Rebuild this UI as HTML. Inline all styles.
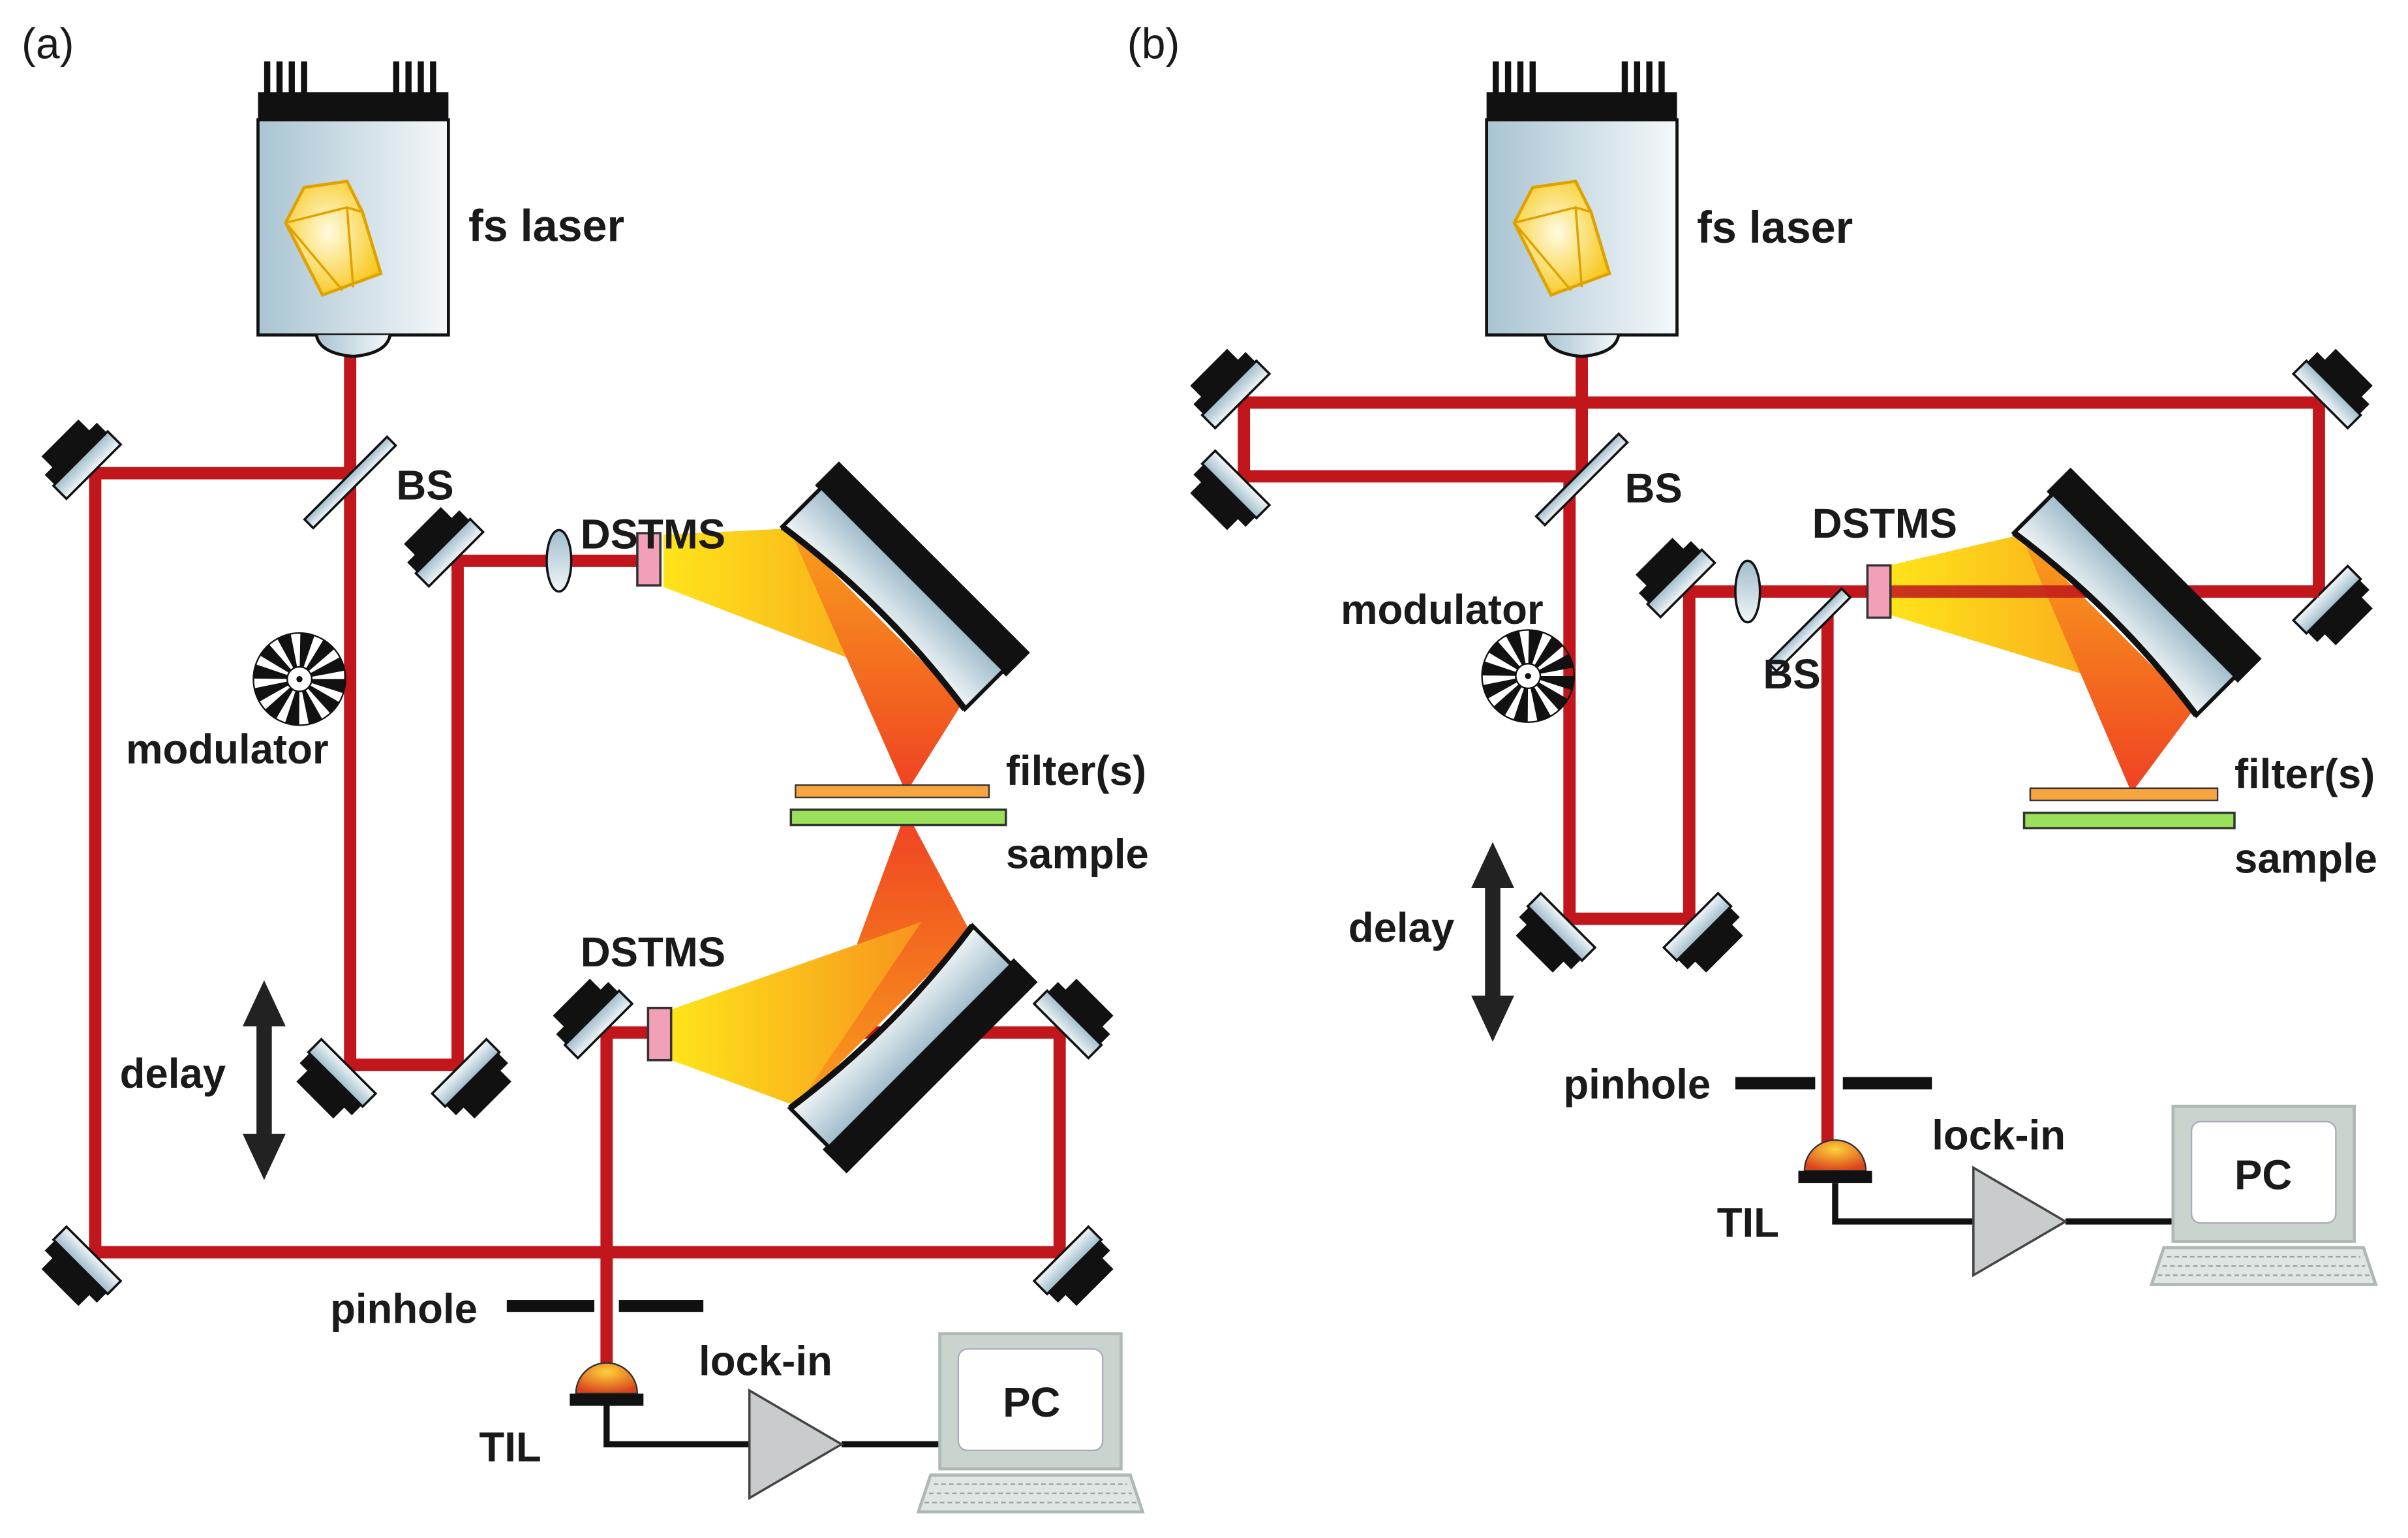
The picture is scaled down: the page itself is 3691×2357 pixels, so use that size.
<!DOCTYPE html>
<html><head><meta charset="utf-8"><style>html,body{margin:0;padding:0;background:#fff}svg{display:block}text{font-family:"Liberation Sans",Arial,sans-serif;font-weight:bold;fill:#1a1a1a}</style></head>
<body>
<svg width="3691" height="2357" viewBox="0 0 1568 1001" preserveAspectRatio="none" xmlns="http://www.w3.org/2000/svg">
<defs>
<linearGradient id="lg" x1="0" y1="0" x2="1" y2="0"><stop offset="0" stop-color="#a9c4d2"/><stop offset="1" stop-color="#f4f8fa"/></linearGradient>
<linearGradient id="mg" x1="0" y1="0" x2="0" y2="1"><stop offset="0" stop-color="#9fbccb"/><stop offset="1" stop-color="#f2f6f8"/></linearGradient>
<linearGradient id="c1" x1="0" y1="0" x2="1" y2="0"><stop offset="0" stop-color="#ffe41a"/><stop offset="1" stop-color="#f7941d"/></linearGradient>
<linearGradient id="c2" x1="0" y1="0" x2="0" y2="1"><stop offset="0" stop-color="#f9a01b"/><stop offset="1" stop-color="#ef4123"/></linearGradient>
<linearGradient id="c3" x1="0" y1="1" x2="0" y2="0"><stop offset="0" stop-color="#f9a01b"/><stop offset="1" stop-color="#ef4123"/></linearGradient>
<radialGradient id="yg" cx="0.45" cy="0.45" r="0.6"><stop offset="0" stop-color="#fffbe0"/><stop offset="1" stop-color="#f7c81c"/></radialGradient>
<radialGradient id="dg" cx="0.5" cy="0.3" r="0.7"><stop offset="0" stop-color="#ffd23a"/><stop offset="1" stop-color="#d9441c"/></radialGradient>
<g id="mir">
<rect x="-17" y="-24" width="34" height="14" fill="#111"/>
<rect x="-24" y="-14" width="48" height="10" fill="#111"/>
<rect x="-25" y="-5" width="50" height="12" fill="url(#mg)" stroke="#111" stroke-width="1.5"/>
</g>
<g id="cm">
<rect x="-88" y="-36" width="176" height="22" fill="#111"/>
<path d="M-84,-16 L84,-16 L84,20 Q0,8 -84,20 Z" fill="url(#mg)" stroke="#111" stroke-width="2.5"/>
<path d="M-84,20 Q0,8 84,20" fill="none" stroke="#111" stroke-width="4"/>
</g>
<g id="laser">
<g fill="#111">
<rect x="4" y="0" width="4" height="22"/><rect x="12" y="0" width="4" height="22"/><rect x="20" y="0" width="4" height="22"/><rect x="28" y="0" width="4" height="22"/>
<rect x="88" y="0" width="4" height="22"/><rect x="96" y="0" width="4" height="22"/><rect x="104" y="0" width="4" height="22"/><rect x="112" y="0" width="4" height="22"/>
<rect x="0" y="20" width="124" height="18"/>
</g>
<rect x="0" y="38" width="124" height="140" fill="url(#lg)" stroke="#111" stroke-width="2"/>
<path d="M38,178 Q40,190 62,192 Q84,190 86,178" fill="url(#lg)" stroke="#111" stroke-width="2"/>
<path d="M18,105 L30,82 L58,78 L68,98 L80,138 L42,152 Z" fill="url(#yg)" stroke="#e0a200" stroke-width="2"/>
<path d="M18,105 L58,95 L68,98 M58,95 L62,147 M18,105 L55,149" fill="none" stroke="#e0a200" stroke-width="1.5"/>
</g>
<g id="mod">
<circle r="16" fill="none" stroke="#111" stroke-width="28" stroke-dasharray="5 3.4"/>
<circle r="30" fill="none" stroke="#111" stroke-width="1"/>
<circle r="8" fill="#fff" stroke="#111" stroke-width="1"/>
<circle r="2" fill="#111"/>
</g>
<g id="arrow"><path d="M0,0 L14,30 L5,30 L5,100 L14,100 L0,130 L-14,100 L-5,100 L-5,30 L-14,30 Z" fill="#222"/></g>
<g id="pc">
<rect x="0" y="0" width="118" height="88" fill="#c9d4cf" stroke="#aeb9b3" stroke-width="2"/>
<rect x="12" y="10" width="94" height="66" rx="6" fill="#fff" stroke="#aab" stroke-width="1"/>
<path d="M-6,92 L124,92 L132,116 L-14,116 Z" fill="#dfe5e2" stroke="#aeb9b3" stroke-width="2"/>
<path d="M-4,98 L122,98 M-7,104 L125,104 M-10,110 L128,110" stroke="#9aa59f" stroke-width="1" stroke-dasharray="3 2"/>
</g>
<g id="amp"><path d="M0,0 L60,35 L0,70 Z" fill="#c8cccc" stroke="#444" stroke-width="1.5"/></g>
<g id="til"><path d="M-20,0 A20,20 0 0,1 20,0 Z" fill="url(#dg)" stroke="#333" stroke-width="1"/><rect x="-24" y="0" width="48" height="8" fill="#111"/></g>
</defs>

<!-- ===== Panel (a) ===== -->
<text x="14" y="38" font-size="28" style="font-weight:normal">(a)</text>
<g stroke="#c0161c" stroke-width="8" fill="none">
<path d="M228,222 L228,693 L298,693 L298,365 L420,365"/>
<path d="M228,308 L62,308 L62,815 L690,815 L690,672 L395,672 L395,900"/>
</g>
<use href="#laser" x="168" y="40"/>
<text x="305" y="157" font-size="29">fs laser</text>
<g transform="translate(228,314) rotate(-45)"><rect x="-38" y="-4" width="76" height="8" fill="url(#mg)" stroke="#111" stroke-width="1.5"/></g>
<text x="258" y="325" font-size="27">BS</text>
<use href="#mir" transform="translate(56,302) rotate(-45)"/>
<use href="#mir" transform="translate(56,821) rotate(-135)"/>
<use href="#mir" transform="translate(696,821) rotate(135)"/>
<use href="#mir" transform="translate(696,666) rotate(45)"/>
<use href="#mir" transform="translate(292,359) rotate(-45)"/>
<use href="#mir" transform="translate(222,699) rotate(-135)"/>
<use href="#mir" transform="translate(304,699) rotate(135)"/>
<use href="#mir" transform="translate(389,666) rotate(-45)"/>
<use href="#mod" x="195" y="442"/>
<text x="82" y="497" font-size="27">modulator</text>
<use href="#arrow" x="172" y="638"/>
<text x="78" y="708" font-size="27">delay</text>
<ellipse cx="364" cy="365" rx="8" ry="20" fill="url(#mg)" stroke="#111" stroke-width="1.5"/>
<polygon points="432,348 514,344 627,457 432,382" fill="url(#c1)"/>
<polygon points="514,344 627,457 590,516" fill="url(#c2)"/>
<polygon points="590,528 632,607 519,720" fill="url(#c3)"/>
<polygon points="437,657 600,600 519,720 437,690" fill="url(#c1)"/>
<use href="#cm" transform="translate(583,388) rotate(45)"/>
<use href="#cm" transform="translate(588,676) rotate(135)"/>
<rect x="415" y="347" width="15" height="34" fill="#f2a0b8" stroke="#333" stroke-width="1.5"/>
<text x="378" y="357" font-size="27">DSTMS</text>
<rect x="422" y="656" width="15" height="34" fill="#f2a0b8" stroke="#333" stroke-width="1.5"/>
<text x="378" y="629" font-size="27">DSTMS</text>
<rect x="518" y="511" width="126" height="8" fill="#f7a541" stroke="#333" stroke-width="1"/>
<rect x="515" y="527" width="140" height="10" fill="#9be05a" stroke="#333" stroke-width="1.5"/>
<text x="655" y="511" font-size="27">filter(s)</text>
<text x="655" y="565" font-size="27">sample</text>
<rect x="330" y="846" width="57" height="8" fill="#111"/><rect x="403" y="846" width="55" height="8" fill="#111"/>
<text x="215" y="861" font-size="27">pinhole</text>
<path d="M395,915 L395,940 L490,940 M548,940 L612,940" stroke="#111" stroke-width="4" fill="none"/>
<use href="#til" x="395" y="907"/>
<text x="312" y="951" font-size="27">TIL</text>
<use href="#amp" x="488" y="905"/>
<text x="455" y="895" font-size="27">lock-in</text>
<use href="#pc" x="612" y="868"/>
<text x="653" y="922" font-size="27">PC</text>

<!-- ===== Panel (b) ===== -->
<text x="734" y="38" font-size="28" style="font-weight:normal">(b)</text>
<g stroke="#c0161c" stroke-width="8" fill="none">
<path d="M1030,222 L1030,310 L810,310 L810,262 L1510,262 L1510,385 L1230,385"/>
<path d="M1022,310 L1022,598 L1100,598 L1100,385 L1226,385"/>
<path d="M1190,396 L1190,752"/>
</g>
<use href="#laser" x="968" y="40"/>
<text x="1105" y="158" font-size="29">fs laser</text>
<g transform="translate(1030,312) rotate(-45)"><rect x="-38" y="-4" width="76" height="8" fill="url(#mg)" stroke="#111" stroke-width="1.5"/></g>
<text x="1058" y="327" font-size="27">BS</text>
<use href="#mir" transform="translate(804,256) rotate(-45)"/>
<use href="#mir" transform="translate(804,316) rotate(-135)"/>
<use href="#mir" transform="translate(1516,256) rotate(45)"/>
<use href="#mir" transform="translate(1516,391) rotate(135)"/>
<use href="#mir" transform="translate(1094,379) rotate(-45)"/>
<use href="#mir" transform="translate(1016,604) rotate(-135)"/>
<use href="#mir" transform="translate(1106,604) rotate(135)"/>
<use href="#mod" x="995" y="440"/>
<text x="873" y="406" font-size="27">modulator</text>
<use href="#arrow" x="972" y="548"/>
<text x="878" y="613" font-size="27">delay</text>
<ellipse cx="1138" cy="385" rx="8" ry="20" fill="url(#mg)" stroke="#111" stroke-width="1.5"/>
<g transform="translate(1178,410) rotate(-45)"><rect x="-34" y="-4" width="68" height="8" fill="url(#mg)" stroke="#111" stroke-width="1.5"/></g>
<text x="1148" y="448" font-size="27">BS</text>
<polygon points="1230,368 1316,348 1429,461 1230,400" fill="url(#c1)"/>
<polygon points="1316,348 1429,461 1388,516" fill="url(#c2)"/>
<path d="M1230,385 L1510,385" stroke="#c0161c" stroke-width="8" opacity="0.85"/>
<use href="#cm" transform="translate(1385,392) rotate(45)"/>
<rect x="1216" y="368" width="15" height="34" fill="#f2a0b8" stroke="#333" stroke-width="1.5"/>
<text x="1180" y="350" font-size="27">DSTMS</text>
<rect x="1322" y="513" width="122" height="8" fill="#f7a541" stroke="#333" stroke-width="1"/>
<rect x="1318" y="529" width="137" height="10" fill="#9be05a" stroke="#333" stroke-width="1.5"/>
<text x="1455" y="513" font-size="27">filter(s)</text>
<text x="1455" y="568" font-size="27">sample</text>
<rect x="1130" y="701" width="52" height="8" fill="#111"/><rect x="1200" y="701" width="58" height="8" fill="#111"/>
<text x="1018" y="715" font-size="27">pinhole</text>
<path d="M1195,770 L1195,795 L1287,795 M1345,795 L1415,795" stroke="#111" stroke-width="4" fill="none"/>
<use href="#til" x="1195" y="762"/>
<text x="1118" y="805" font-size="27">TIL</text>
<use href="#amp" x="1285" y="760"/>
<text x="1258" y="748" font-size="27">lock-in</text>
<use href="#pc" x="1415" y="720"/>
<text x="1455" y="774" font-size="27">PC</text>
</svg>
</body></html>
